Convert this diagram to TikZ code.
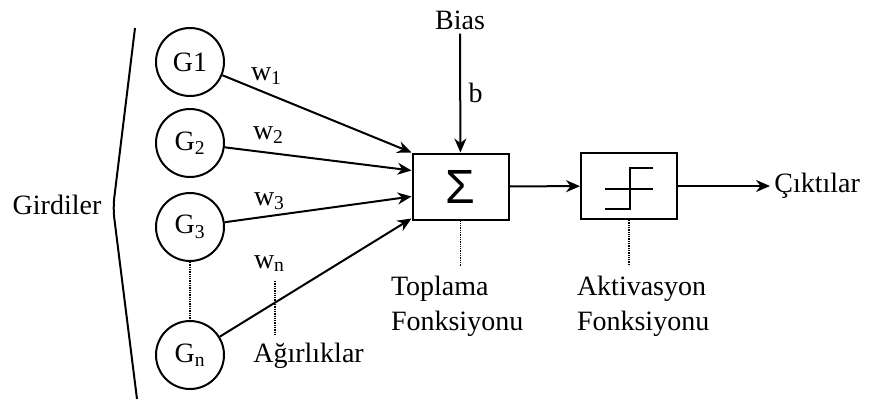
\documentclass[tikz,border=0pt]{standalone}
\usepackage{fontspec}
\setmainfont{Liberation Serif}
\newfontfamily\sumfont{Liberation Sans}
\usetikzlibrary{arrows.meta}

\begin{document}
\begin{tikzpicture}[x=1pt,y=-1pt,line width=2pt,
  font=\fontsize{28}{35}\selectfont,
  girdi/.style={draw,circle,minimum size=68pt,inner sep=0pt},
  kutu/.style={draw,minimum width=96pt,minimum height=66pt,inner sep=0pt},
  ok/.style={-{Stealth[length=14pt,width=12pt]}},
  nokta/.style={densely dotted,line width=1.3pt},
  agirlik/.style={anchor=base west,inner sep=0pt}]
\useasboundingbox (0,0) rectangle (869,400);

% Inputs with their bracket
\node (girdiler) at (57,205) {Girdiler};
\draw[rounded corners=10pt] (135,28) -- (113,208) -- (137,399);
\node[girdi] (g1) at (190,62) {G1};
\node[girdi] (g2) at (190,143) {G\textsubscript{2}};
\node[girdi] (g3) at (190,227) {G\textsubscript{3}};
\node[girdi] (gn) at (190,355) {G\textsubscript{n}};
\draw[nokta] (g3) -- (gn);

% Summation and activation boxes
\node[kutu] (toplam) at (460.5,186.5) {\sumfont\fontsize{48}{48}\selectfont Σ};
\node[kutu] (aktiv) at (629,186) {};
\draw[line width=1.5pt] ([shift={(-24,23)}]aktiv.center) -- ++(25,0) -- ++(0,-41) -- ++(23,0);
\draw[line width=1.5pt] ([shift={(-24,3)}]aktiv.center) -- ++(48,0);

% Weighted inputs
\draw[ok] (g1) -- (toplam.north west);
\draw[ok] (g2) -- ([yshift=16pt]toplam.west);
\draw[ok] (g3) -- ([yshift=-10pt]toplam.west);
\draw[ok] (gn) -- ([yshift=2pt]toplam.south west);
\node[agirlik] (w1) at (250,80) {w\textsubscript{1}};
\node[agirlik] (w2) at (252,139) {w\textsubscript{2}};
\node[agirlik] (w3) at (253,205) {w\textsubscript{3}};
\node[agirlik] (wn) at (253,268) {w\textsubscript{n}};
\draw[nokta] (275,281) -- (275,336);
\node[anchor=base west] (agirliklar) at (249,362) {Ağırlıklar};

% Bias
\node[anchor=base] (bias) at (460,29) {Bias};
\draw[ok] (bias) -- node[right,xshift=4pt] {b} (toplam);

% Output
\draw[ok] (toplam) -- (aktiv);
\node[anchor=west] (cikti) at (770,186) {Çıktılar};
\draw[ok] (aktiv) -- (cikti);

% Function labels
\draw[nokta] (toplam.south) -- ++(0,45) coordinate (t1);
\node[anchor=north west,align=left,inner sep=0pt] (toplama) at (390,275) {Toplama\\Fonksiyonu};
\draw[nokta] (aktiv.south) -- ++(0,46) coordinate (t2);
\node[anchor=north west,align=left,inner sep=0pt] (aktivasyon) at (576,275) {Aktivasyon\\Fonksiyonu};
\end{tikzpicture}
\end{document}
